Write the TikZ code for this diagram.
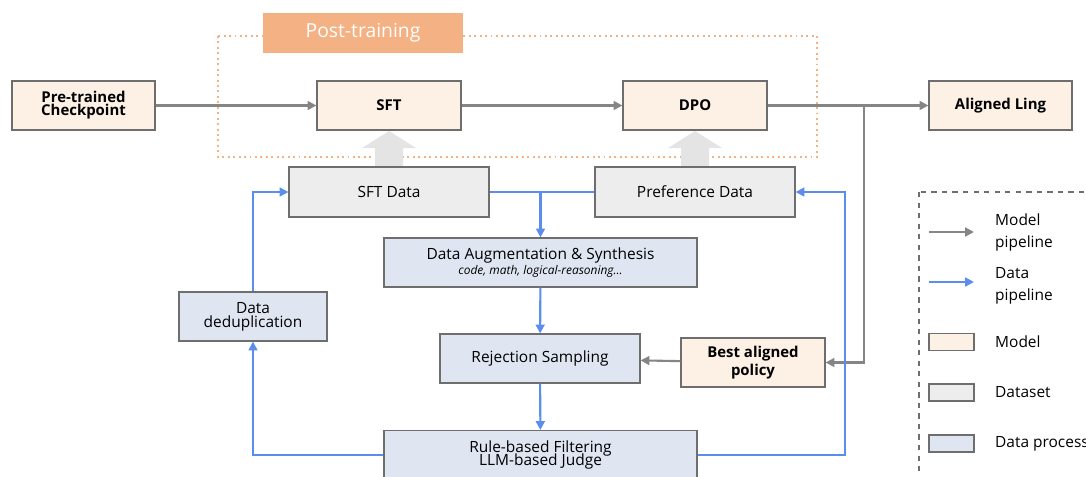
\documentclass[tikz,border=0pt]{standalone}
\usepackage{fontspec}
\setmainfont{Open Sans}
\usetikzlibrary{arrows.meta}
\definecolor{modelfill}{HTML}{FDF0E4}
\definecolor{datafill}{HTML}{EDEDED}
\definecolor{procfill}{HTML}{DFE6F2}
\definecolor{boxline}{HTML}{6E6E6E}
\definecolor{flowgray}{HTML}{858585}
\definecolor{flowblue}{HTML}{5B8DEE}
\definecolor{postorange}{HTML}{F4B183}
\definecolor{fatgray}{HTML}{E4E4E4}

\begin{document}
\begin{tikzpicture}
    [x=0.02cm,y=-0.02cm,
     box/.style={draw=boxline,line width=0.7pt,inner sep=1pt,align=center,
                 font=\fontsize{8.8}{9.8}\selectfont},
     modelbox/.style={box,fill=modelfill,minimum width=2.88cm,minimum height=0.98cm,
                 font=\fontsize{8.5}{9.5}\selectfont\bfseries},
     databox/.style={box,fill=datafill,minimum width=4cm,minimum height=1cm},
     procbox/.style={box,fill=procfill,minimum height=0.98cm},
     modelflow/.style={draw=flowgray,line width=1.2pt,-{Triangle[length=5pt,width=5pt]}},
     dataflow/.style={draw=flowblue,line width=1.2pt,-{Triangle[length=5pt,width=5pt]}},
     legtext/.style={anchor=west,align=left,font=\fontsize{8.8}{12.5}\selectfont}]

\useasboundingbox (0,0) rectangle (1086,477);
\clip (0,0) rectangle (1086,477);

% post-training frame
\draw[postorange,line width=1.1pt,dotted] (218,36) rectangle (817,157);
\node[fill=postorange,text=white,minimum width=4cm,minimum height=0.8cm,
      font=\fontsize{11}{12}\selectfont] (post) at (363,33) {Post-training};

% fat arrows from the datasets
\foreach \cx in {389,695}
  \fill[fatgray] (\cx-14,167) -- (\cx-14,148) -- (\cx-27,148) -- (\cx,131)
                 -- (\cx+27,148) -- (\cx+14,148) -- (\cx+14,167) -- cycle;

% model row
\node[modelbox,minimum width=2.86cm] (pre) at (83.5,105.5) {Pre-trained\\[-2pt]Checkpoint};
\node[modelbox] (sft) at (389,105.5) {SFT};
\node[modelbox] (dpo) at (695,105.5) {DPO};
\node[modelbox,minimum width=2.86cm] (aligned) at (1000.5,105.5) {Aligned Ling};

% datasets
\node[databox] (sftdata) at (389,192) {SFT Data};
\node[databox] (prefdata) at (695,192) {Preference Data};

% data processing
\node[procbox,minimum width=6.26cm] (aug) at (540.5,262.5)
  {Data Augmentation \& Synthesis\\[-1pt]{\fontsize{6.8}{7.2}\selectfont\itshape code, math, logical-reasoning...}};
\node[procbox,minimum width=4cm] (rej) at (540,358.5) {Rejection Sampling};
\node[modelbox] (best) at (753,362.5) {Best aligned\\[1pt]policy};
\node[procbox,minimum width=6.26cm,anchor=north] (rule) at (540.5,430)
  {Rule-based Filtering\\[-2pt]LLM-based Judge};
\node[procbox,minimum width=2.96cm] (dedup) at (253,316.5) {Data\\[-2pt]deduplication};

% model pipeline
\coordinate (split) at (864,105.5);
\draw[modelflow] (pre) -- (sft);
\draw[modelflow] (sft) -- (dpo);
\draw[modelflow] (dpo) -- (aligned);
\draw[modelflow] (split) |- (best.east);
\draw[modelflow] (best) -- (rej);

% data pipeline
\coordinate (fork) at (540.5,192);
\coordinate (rturn) at (845,455);
\draw[draw=flowblue,line width=1.2pt] (sftdata) -- (prefdata);
\draw[dataflow] (fork) -- (aug);
\draw[dataflow] (aug) -- (rej);
\draw[dataflow] (rej) -- (rule);
\draw[dataflow] (rule.west |- rturn) -| (dedup.south);
\draw[dataflow] (dedup.north) |- (sftdata.west);
\draw[dataflow] (rule.east |- rturn) -- (rturn) |- (prefdata.east);

% legend
\draw[boxline,dashed,line width=0.7pt] (919,192) rectangle (1110,500);
\coordinate (lg1a) at (929,232);
\coordinate (lg1b) at (974,232);
\coordinate (lg2a) at (929,282);
\coordinate (lg2b) at (974,282);
\draw[modelflow] (lg1a) -- (lg1b);
\draw[dataflow] (lg2a) -- (lg2b);
\node[legtext] (lgmodelflow) at (989,232) {Model\\pipeline};
\node[legtext] (lgdataflow) at (989,286) {Data\\pipeline};
\node[box,fill=modelfill,minimum width=0.9cm,minimum height=0.34cm] (swmodel) at (951.5,342) {};
\node[box,fill=datafill,minimum width=0.9cm,minimum height=0.34cm] (swdata) at (951.5,392.5) {};
\node[box,fill=procfill,minimum width=0.9cm,minimum height=0.34cm] (swproc) at (951.5,443.5) {};
\node[legtext] (lgmodel) at (989,342) {Model};
\node[legtext] (lgdata) at (989,392.5) {Dataset};
\node[legtext] (lgproc) at (989,443.5) {Data processing};

\end{tikzpicture}
\end{document}
